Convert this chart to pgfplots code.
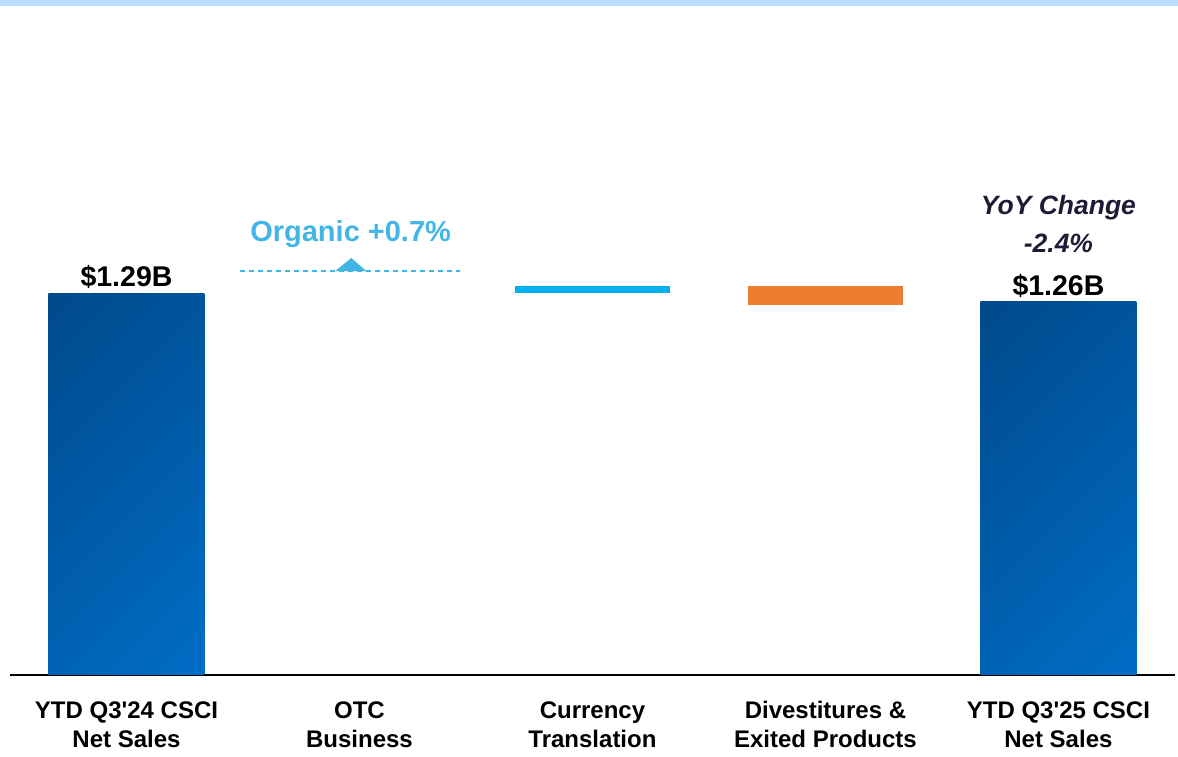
\documentclass[border=0pt]{standalone}
\usepackage{pgfplots}
\pgfplotsset{compat=1.18}
\usepackage{fontspec}
\setmainfont{Liberation Sans}
\definecolor{band}{HTML}{BBDDFF}
\definecolor{navyA}{HTML}{00427F}
\definecolor{navyB}{HTML}{0075D2}
\definecolor{cyanbar}{HTML}{00B0F0}
\definecolor{orangebar}{HTML}{ED7D31}
\definecolor{organic}{HTML}{41B6E6}
\definecolor{yoy}{HTML}{1C1C36}
\pgfdeclareverticalshading{barshade}{100bp}{color(0bp)=(navyB); color(100bp)=(navyA)}
\begin{document}
\begin{tikzpicture}
\path[use as bounding box] (0,0) rectangle (1178pt,757pt);
\fill[band] (0,751pt) rectangle (1178pt,757pt);
\begin{axis}[
  at={(10pt,82pt)}, anchor=south west,
  scale only axis, width=1165pt, height=675pt,
  xmin=-0.5, xmax=4.5, ymin=0, ymax=2.2796,
  clip=false,
  axis x line*=bottom, hide y axis,
  axis line style={-, line width=1.6pt, black},
  xtick={0,1,2,3,4},
  major tick length=0pt,
  xticklabels={{YTD Q3\textquotesingle24 CSCI\\Net Sales},{OTC\\Business},{Currency\\Translation},{Divestitures \&\\Exited Products},{YTD Q3\textquotesingle25 CSCI\\Net Sales}},
  xticklabel style={align=center, font=\fontsize{24}{29}\selectfont\bfseries, text=black, yshift=-23pt},
]
% totals
\addplot[ybar, bar width=156pt, bar shift=0pt, draw=none, shade, shading=barshade, shading angle=45] coordinates {(0,1.29)};
\addplot[ybar, bar width=156pt, bar shift=0pt, draw=none, shade, shading=barshade, shading angle=45] coordinates {(4,1.26)};
% currency (floating bar 1.2900 -> 1.3137)
\addplot[draw=none, fill=cyanbar] coordinates {(1.6656,1.2900) (2.3344,1.2900) (2.3344,1.3137) (1.6656,1.3137)} -- cycle;
% divestitures (floating bar 1.2505 -> 1.3137)
\addplot[draw=none, fill=orangebar] coordinates {(2.6656,1.2505) (3.3344,1.2505) (3.3344,1.3137) (2.6656,1.3137)} -- cycle;
% organic marker
\addplot[color=organic, line width=1.2pt, dash pattern=on 5pt off 4pt] coordinates {(0.489,1.3643) (1.432,1.3643)};
\addplot[draw=none, fill=organic] coordinates {(0.896,1.3643) (0.965,1.4082) (1.029,1.3643)} -- cycle;
\node[font=\fontsize{29}{34}\selectfont\bfseries, text=organic] at (axis cs:0.962,1.490) {Organic +0.7\%};
\node[font=\fontsize{28.5}{33}\selectfont\bfseries, anchor=base] at (axis cs:0,1.312) {\$1.29B};
\node[font=\fontsize{28.5}{33}\selectfont\bfseries, anchor=base] at (axis cs:4,1.281) {\$1.26B};
\node[font=\fontsize{26.5}{31}\selectfont\bfseries\itshape, text=yoy] at (axis cs:4,1.578) {YoY Change};
\node[font=\fontsize{26.5}{31}\selectfont\bfseries\itshape, text=yoy] at (axis cs:4,1.457) {-2.4\%};
\end{axis}
\end{tikzpicture}
\end{document}
